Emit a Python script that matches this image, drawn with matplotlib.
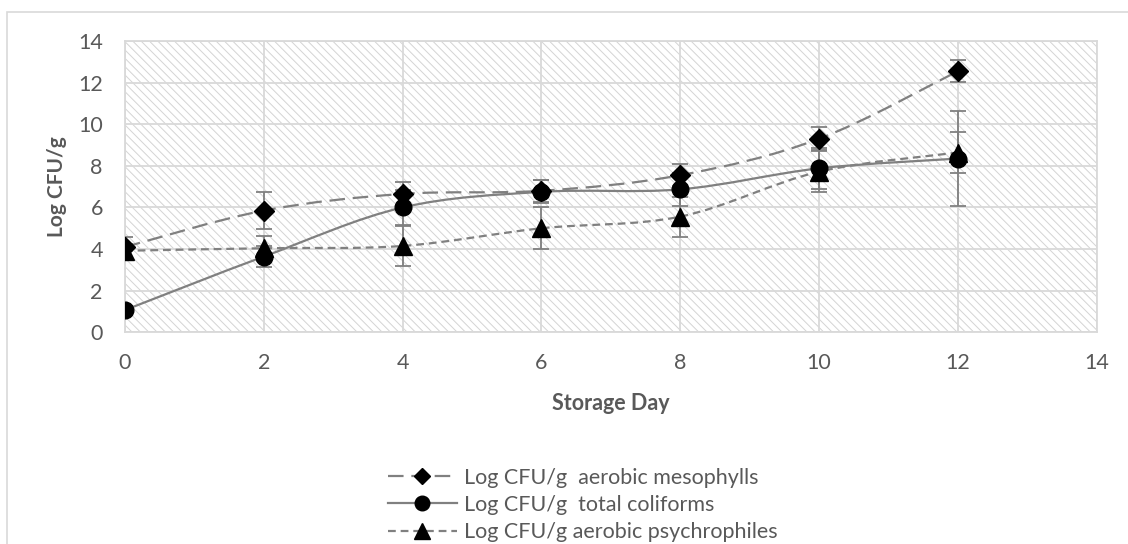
import matplotlib
matplotlib.use("Agg")
import matplotlib.pyplot as plt
from matplotlib.path import Path
from matplotlib.patches import PathPatch, Rectangle
from matplotlib.lines import Line2D
import numpy as np

plt.rcParams['font.family'] = ['Lato', 'DejaVu Sans']
plt.rcParams['hatch.linewidth'] = 0.7
plt.rcParams['hatch.color'] = '#d4d4d4'

days = [0, 2, 4, 6, 8, 10, 12]
meso = [4.1, 5.85, 6.65, 6.8, 7.55, 9.3, 12.55]
meso_err = [0.5, 0.89, 0.55, 0.52, 0.53, 0.55, 0.53]
coli = [1.07, 3.64, 6.0, 6.75, 6.87, 7.88, 8.35]
coli_err = [0.2, 0.5, 0.82, 0.55, 0.8, 0.97, 2.3]
psych = [3.92, 4.04, 4.15, 5.0, 5.56, 7.72, 8.64]
psych_err = [0.3, 0.6, 0.95, 1.0, 0.96, 1.0, 1.0]

labels = ["Log CFU/g  aerobic mesophylls", "Log CFU/g  total coliforms",
          "Log CFU/g aerobic psychrophiles"]
xticks = [0, 2, 4, 6, 8, 10, 12, 14]
yticks = [0, 2, 4, 6, 8, 10, 12, 14]

GREY = '#808080'
TXT = '#595959'

fig = plt.figure(figsize=(11.28, 5.44), dpi=100)
# outer chart frame
fig.add_artist(Rectangle((7/1128, -0.1), 1.2, 1.1 - 12/544, transform=fig.transFigure,
                         fill=False, edgecolor='#d9d9d9', linewidth=1.2))

ax = fig.add_axes([125/1128, 1 - 332.3/544, (1096.7 - 125)/1128, (332.3 - 41)/544])
ax.set_xlim(0, 14)
ax.set_ylim(0, 14)
ax.add_patch(Rectangle((0, 0), 1, 1, transform=ax.transAxes, facecolor='white',
                       edgecolor='#d4d4d4', linewidth=0, hatch='\\\\\\\\', zorder=0))
ax.set_xticks(xticks)
ax.set_yticks(yticks)
ax.grid(True, color='#d9d9d9', linewidth=1.3, zorder=1)
for s in ax.spines.values():
    s.set_color('#d9d9d9')
    s.set_linewidth(1.3)
ax.tick_params(length=0, labelsize=15.5, labelcolor=TXT)
ax.tick_params(axis='x', pad=15)
ax.tick_params(axis='y', pad=16)


def smooth_path(xs, ys):
    pts = np.column_stack([xs, ys]).astype(float)
    n = len(pts)
    verts = [pts[0]]
    codes = [Path.MOVETO]
    for i in range(n - 1):
        p0 = pts[i - 1] if i > 0 else pts[i]
        p1 = pts[i]
        p2 = pts[i + 1]
        p3 = pts[i + 2] if i + 2 < n else pts[i + 1]
        c1 = p1 + (p2 - p0) / 6.0
        c2 = p2 - (p3 - p1) / 6.0
        verts += [c1, c2, p2]
        codes += [Path.CURVE4] * 3
    return Path(verts, codes)


series = [
    (meso, meso_err, 'D', 10, (0, (7, 3.5)), 8),
    (coli, coli_err, 'o', 12, '-', 10.5),
    (psych, psych_err, '^', 13, (0, (3.5, 2.2)), 11.5),
]
handles = []
for (vals, err, mk, ms, ls, lms), lab in zip(series, labels):
    ax.add_patch(PathPatch(smooth_path(days, vals), fill=False, edgecolor=GREY,
                           linewidth=1.6, linestyle=ls, zorder=3))
    ax.errorbar(days, vals, yerr=err, fmt='none', ecolor=GREY, elinewidth=1.3,
                capsize=5.5, capthick=1.3, zorder=4)
    ax.plot(days, vals, linestyle='none', marker=mk, markersize=ms, color='black', zorder=5)
    handles.append(Line2D([], [], color=GREY, linewidth=1.6, linestyle=ls,
                          marker=mk, markersize=lms, markerfacecolor='black',
                          markeredgecolor='black'))

ax.set_xlabel("Storage Day", fontsize=15.5, fontweight='bold', color=TXT, labelpad=14)
ax.set_ylabel("Log CFU/g", fontsize=15, fontweight='bold', color=TXT, labelpad=8)

fig.legend(handles, labels, loc='center', bbox_to_anchor=(583/1128, 1 - 505/544),
           frameon=False, fontsize=15.5, labelcolor=TXT, handlelength=3.2,
           handletextpad=0.35, labelspacing=0.33, borderaxespad=0, borderpad=0)

fig.savefig("out.png", dpi=100)
